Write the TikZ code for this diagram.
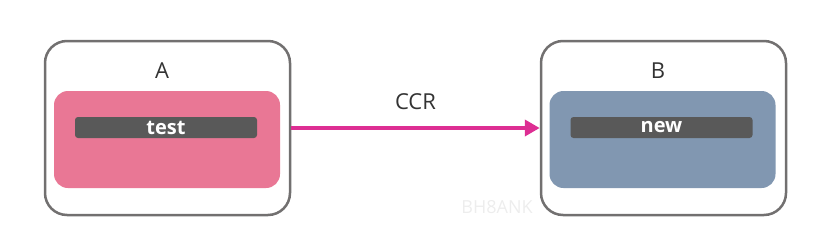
\documentclass[tikz,border=0pt]{standalone}
\usepackage{fontspec}
\setmainfont{Open Sans}
\usetikzlibrary{arrows.meta}
\definecolor{framegray}{HTML}{727070}
\definecolor{rosefill}{HTML}{E97795}
\definecolor{slatefill}{HTML}{8197B1}
\definecolor{bargray}{HTML}{595959}
\definecolor{linkpink}{HTML}{DD2E93}
\definecolor{labelgray}{HTML}{333333}
\tikzset{
  outerbox/.style={draw=framegray, line width=2.5pt, rounded corners=22pt,
    minimum width=245pt, minimum height=174pt, fill=white},
  innerbox/.style={rounded corners=14pt, minimum width=226pt, minimum height=97pt},
  tagbar/.style={fill=bargray, rounded corners=3pt, minimum width=182pt,
    minimum height=21pt, inner sep=0pt, text=white, font=\fontsize{20}{22}\selectfont\bfseries},
  boxlabel/.style={text=labelgray, font=\fontsize{22}{26}\selectfont}
}
\begin{document}
\begin{tikzpicture}[x=1pt, y=-1pt]
  \useasboundingbox (0,0) rectangle (832,244);
  % cluster A
  \node[outerbox] (boxA) at (167.5,128) {};
  \node[innerbox, fill=rosefill] (podA) at (167,139.5) {};
  \node[tagbar] (tagA) at (166,127.5) {test};
  \node[boxlabel] (nameA) at (162,71) {A};
  % cluster B
  \node[outerbox] (boxB) at (663.5,128) {};
  \node[innerbox, fill=slatefill] (podB) at (662.5,139.5) {};
  \node[tagbar] (tagB) at (661.5,127.5) {new};
  \node[boxlabel] (nameB) at (658,71) {B};
  % verbindung
  \draw[-{Triangle[length=15pt, width=16pt]}, draw=linkpink, fill=linkpink, line width=4pt]
    (boxA.east) -- (boxB.west) node[midway, above=13pt, boxlabel] (ccr) {CCR};
  % wasserzeichen
  \node[text=black!7, font=\fontsize{18}{20}\selectfont] (mark) at (497,207) {BH8ANK};
\end{tikzpicture}
\end{document}
